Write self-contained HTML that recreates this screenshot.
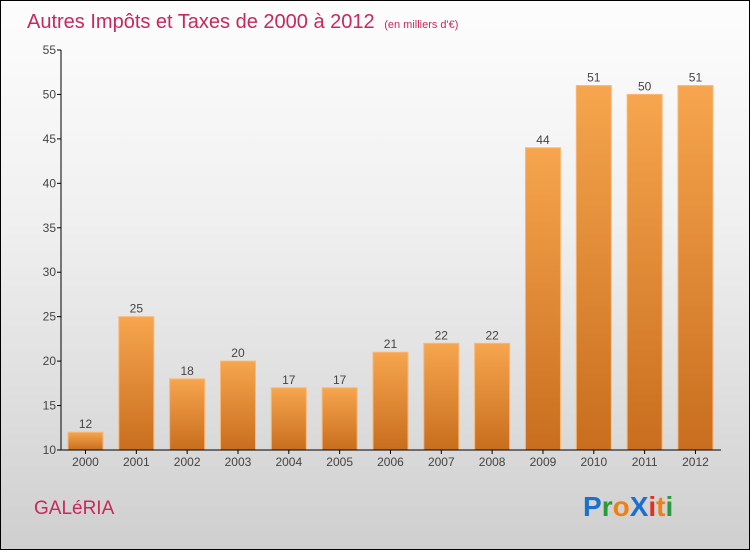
<!DOCTYPE html>
<html><head><meta charset="utf-8"><style>
html,body{margin:0;padding:0}
body{width:750px;height:550px;overflow:hidden;font-family:"Liberation Sans",sans-serif}
#wrap{position:absolute;left:0;top:0;width:748px;height:548px;border:1px solid #000;background:linear-gradient(#fdfdfd,#f0f0f0 40%,#cfcfcf)}
</style></head><body>
<div id="wrap">
<svg width="748" height="548" viewBox="1 1 748 548">
<defs><linearGradient id="bg" x1="0" y1="0" x2="0" y2="1"><stop offset="0" stop-color="#f7a54e"/><stop offset="1" stop-color="#c86e1e"/></linearGradient></defs>
<text x="27" y="28" font-size="20" fill="#c8285a">Autres Impôts et Taxes de 2000 à 2012 <tspan font-size="11" dx="4">(en milliers d'€)</tspan></text>
<g id="yaxis"></g>
<g id="bars"></g>
<g id="xaxis"></g>
<text x="34" y="514" font-size="19" fill="#c8285a">GALéRIA</text>
<g font-size="28" font-weight="bold">
<text x="583" y="516"><tspan fill="#1a6fd0">P</tspan><tspan fill="#2a9a3a">r</tspan><tspan fill="#f08010">o</tspan><tspan fill="#1a6fd0">X</tspan><tspan fill="#e03020">i</tspan><tspan fill="#f08010">t</tspan><tspan fill="#2a9a3a">i</tspan></text>
</g>
</svg></div>
<script>
const years=["2000","2001","2002","2003","2004","2005","2006","2007","2008","2009","2010","2011","2012"];
const values=[12,25,18,20,17,17,21,22,22,44,51,50,51];
const yTicks=[10,15,20,25,30,35,40,45,50,55];
const NS="http://www.w3.org/2000/svg";
const y0=450,y1=50,vmin=10,vmax=55,x0=61,step=50.83,bw=35;
const Y=v=>y0-(v-vmin)/(vmax-vmin)*(y0-y1);
const X=i=>68+i*step;
function mk(t,a,p){const e=document.createElementNS(NS,t);for(const k in a)e.setAttribute(k,a[k]);p.appendChild(e);return e;}
const ya=document.getElementById('yaxis'),ba=document.getElementById('bars'),xa=document.getElementById('xaxis');
mk('line',{x1:x0,y1:y1,x2:x0,y2:y0,stroke:'#000'},ya);
yTicks.forEach(v=>{
 const l=mk('line',{x1:x0-4,y1:Y(v),x2:x0,y2:Y(v),stroke:'#000'},ya);
 
 
 const t=mk('text',{x:x0-5,y:Y(v)+4,'text-anchor':'end','font-size':12,fill:'#444'},ya);t.textContent=v;
 
 
});
mk('line',{x1:x0,y1:y0,x2:721,y2:y0,stroke:'#000'},xa);
values.forEach((v,i)=>{
 const r=mk('rect',{x:X(i),y:Y(v),width:bw,height:y0-Y(v),fill:'url(#bg)',stroke:'#f9b878','stroke-width':1},ba);
 
 
 const t=mk('text',{x:X(i)+bw/2,y:Y(v)-4,'text-anchor':'middle','font-size':12,fill:'#444'},ba);t.textContent=v;
 
 
 const tk=mk('line',{x1:X(i)+bw/2,y1:y0,x2:X(i)+bw/2,y2:y0+4,stroke:'#000'},xa);
 
 
 const xl=mk('text',{x:X(i)+bw/2,y:y0+16,'text-anchor':'middle','font-size':12,fill:'#444'},xa);xl.textContent=years[i];
 
 
});
</script>
</body></html>
